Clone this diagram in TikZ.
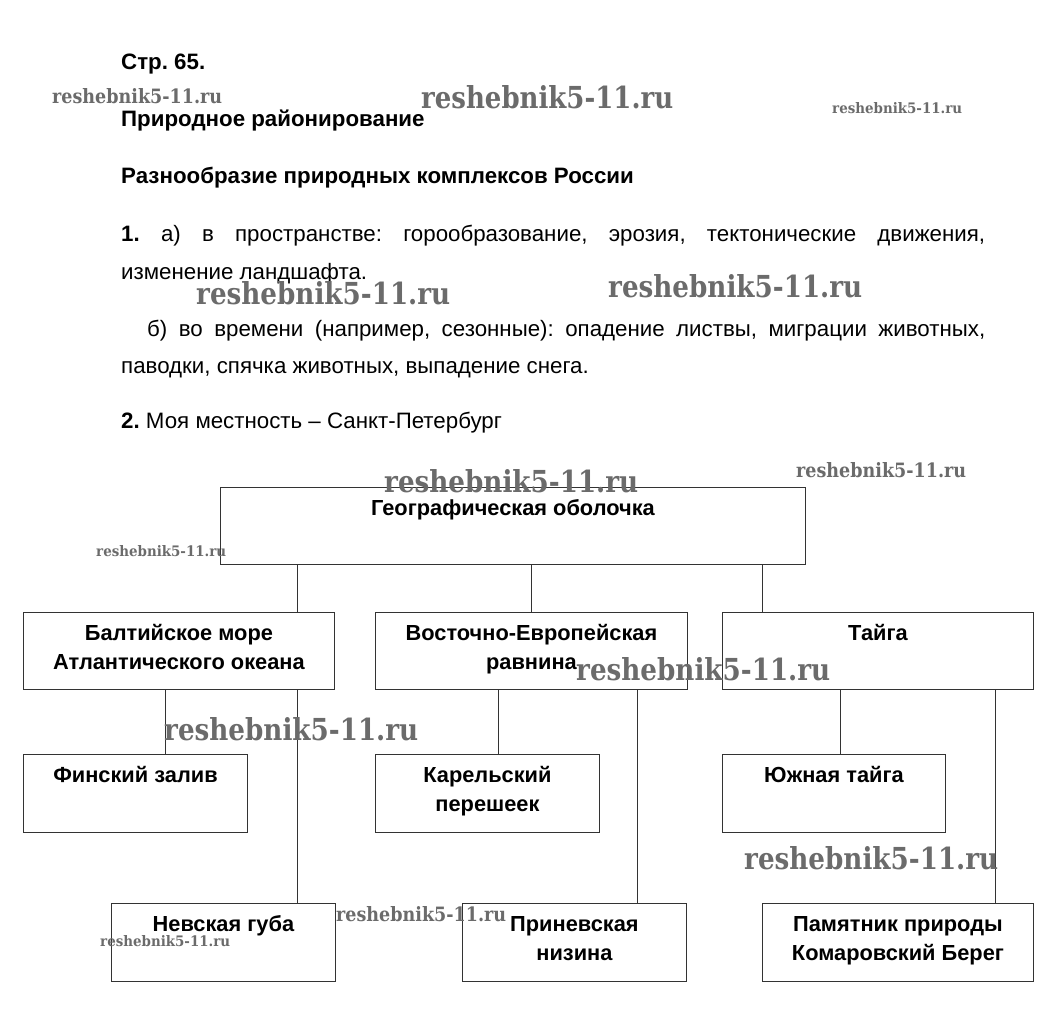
\documentclass[tikz,border=0pt]{standalone}
\usepackage{fontspec}
\usepackage{graphicx}
\setmainfont{Liberation Sans}
\newfontfamily\wmfont{DejaVu Serif}
\frenchspacing
\tikzset{
  txt/.style={anchor=base west, inner sep=0pt, font=\fontsize{22.3}{37}\selectfont},
  hd/.style={txt, font=\fontsize{22.3}{37}\selectfont\bfseries},
  box/.style={draw=black!80, line width=0.9pt, inner sep=0pt, anchor=north west, font=\fontsize{21.8}{29}\selectfont\bfseries},
  conn/.style={draw=black!80, line width=0.9pt},
  wmk/.style={inner sep=0pt, text=black!58}
}
\newcommand{\boxtext}[3]{\parbox[c][#2pt][t]{#1pt}{\centering\rule{0pt}{28pt}#3}}
\newcommand{\wmark}[2]{\resizebox{#1pt}{#2pt}{\wmfont\bfseries reshebnik5-11.ru}}
\begin{document}
\begin{tikzpicture}[x=1pt,y=-1pt]
\useasboundingbox[fill=white] (0,0) rectangle (1049,1033);
% headings
\node[hd] (h1) at (121,70) {Стр. 65.};
\node[hd] (h2) at (121,126) {Природное районирование};
\node[hd] (h3) at (121,183) {Разнообразие природных комплексов России};
% paragraphs
\node[txt] (p1) at (121,241) {\makebox[864pt][s]{\textbf{1.} а) в пространстве: горообразование, эрозия, тектонические движения,}};
\node[txt] (p2) at (121,279) {изменение ландшафта.};
\node[txt] (p3) at (147,336) {\makebox[838pt][s]{б) во времени (например, сезонные): опадение листвы, миграции животных,}};
\node[txt] (p4) at (121,373) {паводки, спячка животных, выпадение снега.};
\node[txt] (p5) at (121,428) {\textbf{2.} Моя местность – Санкт-Петербург};
% boxes
\node[box] (top) at (220,487) {\boxtext{585}{77}{Географическая оболочка}};
\node[box] (a) at (23,612) {\boxtext{311}{77}{Балтийское море\\Атлантического океана}};
\node[box] (b) at (375,612) {\boxtext{312}{77}{Восточно-Европейская\\равнина}};
\node[box] (c) at (722,612) {\boxtext{311}{77}{Тайга}};
\node[box] (a1) at (23,754) {\boxtext{224}{78}{Финский залив}};
\node[box] (b1) at (375,754) {\boxtext{224}{78}{Карельский\\перешеек}};
\node[box] (c1) at (722,754) {\boxtext{223}{78}{Южная тайга}};
\node[box] (a2) at (111,903) {\boxtext{224}{78}{Невская губа}};
\node[box] (b2) at (462,903) {\boxtext{224}{78}{Приневская\\низина}};
\node[box] (c2) at (762,903) {\boxtext{271}{78}{Памятник природы\\Комаровский Берег}};
% connector columns
\coordinate (xa) at (297,0);
\coordinate (xb) at (531,0);
\coordinate (xc) at (762,0);
\coordinate (xa1) at (165,0);
\coordinate (xb1) at (498,0);
\coordinate (xc1) at (840,0);
\coordinate (xb2) at (637,0);
\coordinate (xc2) at (995,0);
\draw[conn] (top.south -| xa) -- (a.north -| xa);
\draw[conn] (top.south -| xb) -- (b.north -| xb);
\draw[conn] (top.south -| xc) -- (c.north -| xc);
\draw[conn] (a.south -| xa1) -- (a1.north -| xa1);
\draw[conn] (a.south -| xa) -- (a2.north -| xa);
\draw[conn] (b.south -| xb1) -- (b1.north -| xb1);
\draw[conn] (b.south -| xb2) -- (b2.north -| xb2);
\draw[conn] (c.south -| xc1) -- (c1.north -| xc1);
\draw[conn] (c.south -| xc2) -- (c2.north -| xc2);
% watermarks
\node[wmk, anchor=base west] (w1) at (52,103) {\wmark{170}{15}};
\node[wmk, anchor=base west] (w2) at (421,108) {\wmark{252}{23}};
\node[wmk, anchor=base west] (w3) at (832,113) {\wmark{130}{11}};
\node[wmk, anchor=base west] (w4) at (196,304) {\wmark{254}{23}};
\node[wmk, anchor=base west] (w5) at (608,297) {\wmark{254}{23}};
\node[wmk, anchor=base west] (w6) at (384,492) {\wmark{254}{23}};
\node[wmk, anchor=base west] (w7) at (796,477) {\wmark{170}{15}};
\node[wmk, anchor=base west] (w8) at (96,556) {\wmark{130}{11}};
\node[wmk, anchor=base west] (w9) at (576,680) {\wmark{254}{23}};
\node[wmk, anchor=base west] (w10) at (164,740) {\wmark{254}{23}};
\node[wmk, anchor=base west] (w11) at (744,869) {\wmark{254}{23}};
\node[wmk, anchor=base west] (w12) at (336,921) {\wmark{170}{15}};
\node[wmk, anchor=base west] (w13) at (100,946) {\wmark{130}{11}};
\end{tikzpicture}
\end{document}
